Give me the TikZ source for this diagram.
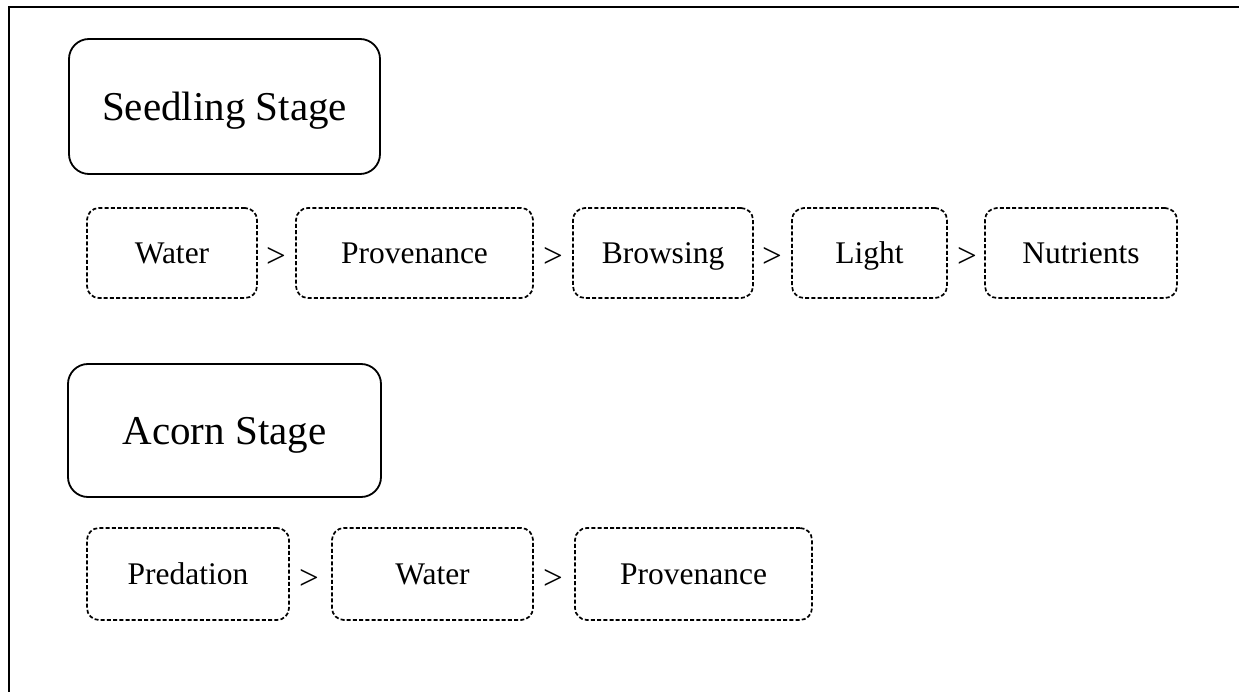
\documentclass[tikz,border=0pt]{standalone}
\usepackage{fontspec}
\setmainfont{Liberation Serif}
\begin{document}
\begin{tikzpicture}[x=1pt,y=-1pt,
  stagebox/.style={draw, line width=1.8pt, rounded corners=20pt, inner sep=0pt,
    font=\fontsize{41}{44}\selectfont, text height=27.1pt, text depth=0pt},
  factorbox/.style={draw, line width=1.7pt, dash pattern=on 4pt off 2.2pt,
    rounded corners=12pt, inner sep=0pt,
    font=\fontsize{31.5}{34}\selectfont, text height=20.9pt, text depth=0pt},
  gtsign/.style={inner sep=0pt, font=\fontsize{35}{38}\selectfont, text height=30pt, text depth=0pt}]
\useasboundingbox (0,0) rectangle (1239,692);
\fill[white] (0,0) rectangle (1239,692);
\draw[line width=2pt] (8.5,692) -- (8.5,7.5) -- (1239,7.5);

% Seedling stage
\node[stagebox, minimum width=311pt, minimum height=135pt] (seed) at (224.5,106.5) {Seedling Stage};
\node[factorbox, minimum width=170pt, minimum height=90pt] (s1) at (172,253) {Water};
\node[factorbox, minimum width=237pt, minimum height=90pt] (s2) at (414.5,253) {Provenance};
\node[factorbox, minimum width=180pt, minimum height=90pt] (s3) at (663,253) {Browsing};
\node[factorbox, minimum width=155pt, minimum height=90pt] (s4) at (869.5,253) {Light};
\node[factorbox, minimum width=192pt, minimum height=90pt] (s5) at (1081,253) {Nutrients};
\node[gtsign] (g1) at (276,253) {>};
\node[gtsign] (g2) at (553,253) {>};
\node[gtsign] (g3) at (772,253) {>};
\node[gtsign] (g4) at (967,253) {>};

% Acorn stage
\node[stagebox, minimum width=313pt, minimum height=133pt] (acorn) at (224.5,430.5) {Acorn Stage};
\node[factorbox, minimum width=202pt, minimum height=92pt] (a1) at (188,574) {Predation};
\node[factorbox, minimum width=201pt, minimum height=92pt] (a2) at (432.5,574) {Water};
\node[factorbox, minimum width=237pt, minimum height=92pt] (a3) at (693.5,574) {Provenance};
\node[gtsign] (h1) at (309,574) {>};
\node[gtsign] (h2) at (553,574) {>};
\end{tikzpicture}
\end{document}
